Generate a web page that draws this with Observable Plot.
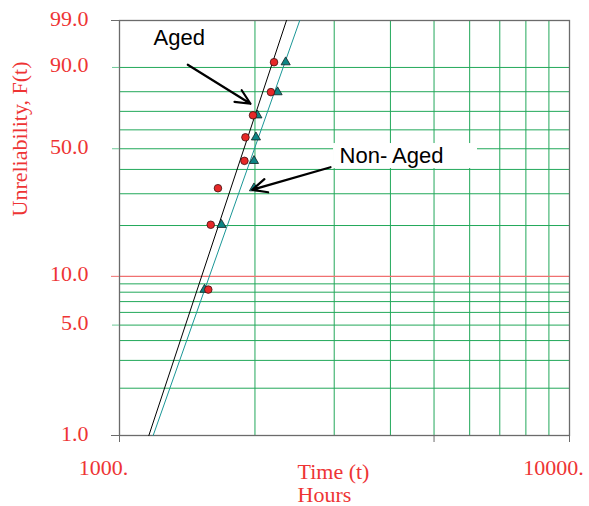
<!DOCTYPE html>
<html><head><meta charset="utf-8">
<script src="https://cdn.jsdelivr.net/npm/d3@7"></script>
<script src="https://cdn.jsdelivr.net/npm/@observablehq/plot@0.6"></script>
<style>body{margin:0;background:#fff}#chart svg{display:block}</style>
</head><body><div id="chart"></div>
<script>
// Data
const fPct = [8.3, 20.2, 32.1, 44.0, 56.0, 67.9, 79.8, 91.7];          // median ranks, %
const agedHours = [1575, 1595, 1655, 1895, 1905, 1980, 2170, 2205];
const nonAgedHours = [1545, 1685, 1990, 1990, 2010, 2025, 2245, 2340];
const fitF = [1, 99];
const agedFitHours = [1162, 2350];
const nonAgedFitHours = [1188, 2515];
// Grid and ticks
const yGrid = [2, 3, 4, 5, 6, 7, 8, 9, 20, 30, 40, 50, 60, 70, 80, 90];
const yRedGrid = [10];
const xGrid = [2000, 3000, 4000, 5000, 6000, 7000, 8000, 9000];
const yTickGreen = [5, 50, 90];
const yTickRed = [10];
const yTickGray = [1, 99];
const xTicks = [1000, 5000, 10000];
const xLabelTicks = [1000, 10000];
const xTickLabels = {1000: "1000.", 10000: "10000."};
// Annotations (data space)
const labelNames = ["Aged", "Non- Aged"];
const labelHours = [1190, 3083];
const labelF = [96.0, 42.9];
const arrowFrom = [[1418, 90.9], [2944, 41.0]];
const arrowTo = [[1955, 74.0], [1972, 31.5]];
const boxHours = [2990, 6245];
const boxF = [40.4, 52.7];

const red = "#ee3434";
const green = "#22a85a";
const serif = "'Liberation Serif','Times New Roman',serif";
const sans = "'Liberation Sans',Arial,sans-serif";
const weib = F => Math.log(-Math.log(1 - F / 100));

const aged = fPct.map((F, i) => ({F, t: agedHours[i]}));
const nonAged = fPct.map((F, i) => ({F, t: nonAgedHours[i]}));
const agedFit = fitF.map((F, i) => ({F, t: agedFitHours[i]}));
const nonAgedFit = fitF.map((F, i) => ({F, t: nonAgedFitHours[i]}));
const labels = labelNames.map((s, i) => ({s, t: labelHours[i], F: labelF[i]}));
const arrows = arrowFrom.map((a, i) => ({x1: a[0], y1: a[1], x2: arrowTo[i][0], y2: arrowTo[i][1]}));
const box = [{x1: boxHours[0], x2: boxHours[1], y1: boxF[0], y2: boxF[1]}];

const chart = Plot.plot({
  width: 589, height: 506,
  marginLeft: 119, marginRight: 20, marginTop: 20, marginBottom: 71,
  style: {fontFamily: serif, fontSize: "22px", background: "#fff"},
  x: {type: "log", domain: [1000, 10000], axis: null},
  y: {transform: weib, domain: [weib(1), weib(99)], axis: null},
  marks: [
    Plot.ruleY(yGrid, {stroke: green, strokeWidth: 1}),
    Plot.ruleX(xGrid, {stroke: green, strokeWidth: 1}),
    Plot.ruleY(yRedGrid, {stroke: "#f07070", strokeWidth: 1.3}),
    Plot.rect(box, {x1: "x1", x2: "x2", y1: "y1", y2: "y2", fill: "white"}),
    Plot.frame({stroke: "#6b6b6b", strokeWidth: 1.3}),
    Plot.axisY(yTickGreen, {tickSize: 7, stroke: "#6cc896", text: null, label: null}),
    Plot.axisY(yTickRed, {tickSize: 8, stroke: "#f07070", text: null, label: null}),
    Plot.axisY(yTickGray, {tickSize: 8, stroke: "#6b6b6b", text: null, label: null}),
    Plot.axisY([...yTickGray, ...yTickGreen, ...yTickRed], {tickSize: 0, tickPadding: 31, tickFormat: d => d.toFixed(1), fill: red, fontSize: 22, fontFamily: serif, dy: -2, label: null}),
    Plot.axisX(xTicks, {tickSize: 7, stroke: "#6b6b6b", text: null, label: null}),
    Plot.axisX(xLabelTicks, {tickSize: 0, tickPadding: 24, tickFormat: d => xTickLabels[d], fill: red, fontSize: 22, fontFamily: serif, dx: -16, label: null}),
    Plot.line(agedFit, {x: "t", y: "F", stroke: "black", strokeWidth: 1}),
    Plot.line(nonAgedFit, {x: "t", y: "F", stroke: "#1a9696", strokeWidth: 1}),
    Plot.dot(nonAged, {x: "t", y: "F", symbol: "triangle", r: 3.4, fill: "#0e8585", stroke: "#102020", strokeWidth: 0.8}),
    Plot.dot(aged, {x: "t", y: "F", symbol: "circle", r: 3.8, fill: "#e62828", stroke: "#401010", strokeWidth: 0.8}),
    Plot.arrow(arrows, {x1: "x1", y1: "y1", x2: "x2", y2: "y2", stroke: "black", strokeWidth: 2.2, headLength: 11, headAngle: 50}),
    Plot.text(labels, {x: "t", y: "F", text: "s", textAnchor: "start", lineAnchor: "bottom", fontFamily: sans, fontSize: 22, fill: "black"}),
    Plot.text(["Unreliability, F(t)"], {frameAnchor: "left", dx: -100, dy: -11.5, rotate: -90, fill: red, fontSize: 22, fontFamily: serif}),
    Plot.text(["Time (t)\nHours"], {frameAnchor: "bottom-left", dx: 178, dy: 27, textAnchor: "start", lineAnchor: "top", lineHeight: 1.06, fill: red, fontSize: 22, fontFamily: serif})
  ]
});
document.getElementById("chart").appendChild(chart);
</script>
</body></html>
